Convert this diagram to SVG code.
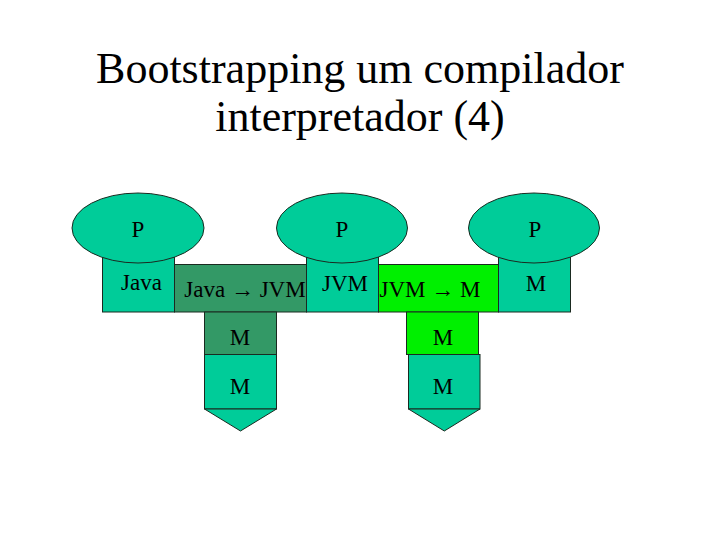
<svg xmlns="http://www.w3.org/2000/svg" width="720" height="540" viewBox="0 0 720 540">
<style>
.t{fill:#00cc99;stroke:#1a2a20;stroke-width:1}
.d{fill:#339966;stroke:#1a2a20;stroke-width:1}
.g{fill:#00f000;stroke:#1a2a20;stroke-width:1}
.lb{font-size:23px}
.ti{font-size:44px}
</style>
<rect width="720" height="540" fill="#fff"/>
<g font-family="Liberation Serif, serif" text-anchor="middle" fill="#000">
<g id="title">
<text class="ti" x="360" y="83">Bootstrapping um compilador</text>
<text class="ti" x="360" y="131">interpretador (4)</text>
</g>
</g>
<g id="connectors"></g>
<g id="tdiag1">
<rect class="t" x="102.5" y="250" width="72" height="62"/>
<ellipse class="t" cx="138" cy="228" rx="66" ry="35"/>
<g font-family="Liberation Serif, serif" text-anchor="middle" fill="#000">
<text class="lb" x="138" y="237">P</text>
<text class="lb" x="141.5" y="290">Java</text>
</g>
</g>
<g id="compiler1">
<rect class="d" x="174.5" y="264.5" width="132" height="47.5"/>
<rect class="d" x="204.5" y="312" width="72" height="42.5"/>
<rect class="t" x="204.5" y="354.5" width="72" height="54.5"/>
<polygon class="t" points="204.5,409 276.5,409 240.5,431"/>
<g font-family="Liberation Serif, serif" text-anchor="middle" fill="#000">
<text class="lb" x="245" y="297">Java → JVM</text>
<text class="lb" x="240" y="345">M</text>
<text class="lb" x="240" y="394">M</text>
</g>
</g>
<g id="tdiag2">
<rect class="t" x="306.5" y="250" width="72" height="62"/>
<ellipse class="t" cx="342" cy="228" rx="65.5" ry="35"/>
<g font-family="Liberation Serif, serif" text-anchor="middle" fill="#000">
<text class="lb" x="342" y="237">P</text>
<text class="lb" x="345" y="291">JVM</text>
</g>
</g>
<g id="compiler2">
<rect class="g" x="378.5" y="264.5" width="120" height="47.5"/>
<rect class="g" x="406.5" y="312" width="72" height="42.5"/>
<rect class="t" x="408.5" y="354.5" width="71.5" height="54.5"/>
<polygon class="t" points="408.5,409 480,409 444.3,431"/>
<g font-family="Liberation Serif, serif" text-anchor="middle" fill="#000">
<text class="lb" x="430" y="297">JVM → M</text>
<text class="lb" x="443" y="345">M</text>
<text class="lb" x="443" y="394">M</text>
</g>
</g>
<g id="tdiag3">
<rect class="t" x="498.5" y="250" width="72" height="62"/>
<ellipse class="t" cx="534" cy="228" rx="65.5" ry="35"/>
<g font-family="Liberation Serif, serif" text-anchor="middle" fill="#000">
<text class="lb" x="535" y="237">P</text>
<text class="lb" x="536" y="291">M</text>
</g>
</g>
</svg>
